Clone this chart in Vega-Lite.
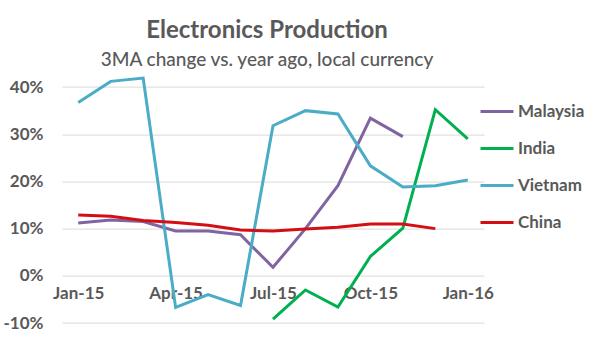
{
  "$schema": "https://vega.github.io/schema/vega-lite/v6.json",
  "autosize": "none",
  "width": 422,
  "height": 245.4,
  "padding": {"left": 62, "top": 77.6, "right": 117, "bottom": 38},
  "background": "white",
  "title": {
    "text": "Electronics Production",
    "subtitle": "3MA change vs. year ago, local currency",
    "anchor": "middle",
    "dx": -6,
    "offset": 2,
    "font": "Lato",
    "fontSize": 24,
    "fontWeight": "bold",
    "color": "#595959",
    "subtitleFont": "Lato",
    "subtitleFontSize": 19,
    "subtitleFontWeight": 500,
    "subtitleColor": "#595959",
    "subtitlePadding": 8
  },
  "data": {
    "values": [
      {"month": "Jan-15", "country": "Malaysia", "value": 0.112},
      {"month": "Feb-15", "country": "Malaysia", "value": 0.118},
      {"month": "Mar-15", "country": "Malaysia", "value": 0.115},
      {"month": "Apr-15", "country": "Malaysia", "value": 0.095},
      {"month": "May-15", "country": "Malaysia", "value": 0.095},
      {"month": "Jun-15", "country": "Malaysia", "value": 0.087},
      {"month": "Jul-15", "country": "Malaysia", "value": 0.018},
      {"month": "Aug-15", "country": "Malaysia", "value": 0.100},
      {"month": "Sep-15", "country": "Malaysia", "value": 0.191},
      {"month": "Oct-15", "country": "Malaysia", "value": 0.334},
      {"month": "Nov-15", "country": "Malaysia", "value": 0.295},
      {"month": "Jul-15", "country": "India", "value": -0.092},
      {"month": "Aug-15", "country": "India", "value": -0.030},
      {"month": "Sep-15", "country": "India", "value": -0.066},
      {"month": "Oct-15", "country": "India", "value": 0.041},
      {"month": "Nov-15", "country": "India", "value": 0.101},
      {"month": "Dec-15", "country": "India", "value": 0.352},
      {"month": "Jan-16", "country": "India", "value": 0.290},
      {"month": "Jan-15", "country": "Vietnam", "value": 0.367},
      {"month": "Feb-15", "country": "Vietnam", "value": 0.412},
      {"month": "Mar-15", "country": "Vietnam", "value": 0.419},
      {"month": "Apr-15", "country": "Vietnam", "value": -0.067},
      {"month": "May-15", "country": "Vietnam", "value": -0.040},
      {"month": "Jun-15", "country": "Vietnam", "value": -0.063},
      {"month": "Jul-15", "country": "Vietnam", "value": 0.318},
      {"month": "Aug-15", "country": "Vietnam", "value": 0.350},
      {"month": "Sep-15", "country": "Vietnam", "value": 0.343},
      {"month": "Oct-15", "country": "Vietnam", "value": 0.233},
      {"month": "Nov-15", "country": "Vietnam", "value": 0.188},
      {"month": "Dec-15", "country": "Vietnam", "value": 0.191},
      {"month": "Jan-16", "country": "Vietnam", "value": 0.203},
      {"month": "Jan-15", "country": "China", "value": 0.129},
      {"month": "Feb-15", "country": "China", "value": 0.126},
      {"month": "Mar-15", "country": "China", "value": 0.117},
      {"month": "Apr-15", "country": "China", "value": 0.113},
      {"month": "May-15", "country": "China", "value": 0.107},
      {"month": "Jun-15", "country": "China", "value": 0.097},
      {"month": "Jul-15", "country": "China", "value": 0.095},
      {"month": "Aug-15", "country": "China", "value": 0.099},
      {"month": "Sep-15", "country": "China", "value": 0.103},
      {"month": "Oct-15", "country": "China", "value": 0.110},
      {"month": "Nov-15", "country": "China", "value": 0.110},
      {"month": "Dec-15", "country": "China", "value": 0.100}
    ]
  },
  "mark": {"type": "line", "strokeWidth": 3, "clip": false},
  "encoding": {
    "x": {
      "field": "month",
      "type": "ordinal",
      "sort": ["Jan-15","Feb-15","Mar-15","Apr-15","May-15","Jun-15","Jul-15","Aug-15","Sep-15","Oct-15","Nov-15","Dec-15","Jan-16"],
      "scale": {"type": "point", "padding": 0.5},
      "axis": {
        "title": null,
        "values": ["Jan-15","Apr-15","Jul-15","Oct-15","Jan-16"],
        "labelAngle": 0,
        "offset": -47.2,
        "domain": false,
        "ticks": false,
        "grid": false,
        "labelPadding": 10,
        "labelFont": "Lato",
        "labelFontSize": 17,
        "labelFontWeight": "bold",
        "labelColor": "#595959"
      }
    },
    "y": {
      "field": "value",
      "type": "quantitative",
      "scale": {"domain": [-0.1, 0.42], "nice": false, "zero": false},
      "axis": {
        "title": null,
        "values": [-0.1, 0, 0.1, 0.2, 0.3, 0.4],
        "labelExpr": "toString(round(datum.value * 100)) + '%'",
        "domain": false,
        "ticks": false,
        "grid": true,
        "gridColor": "#D9D9D9",
        "gridWidth": 1,
        "labelPadding": 19,
        "labelFont": "Lato",
        "labelFontSize": 17,
        "labelFontWeight": "bold",
        "labelColor": "#595959"
      }
    },
    "color": {
      "field": "country",
      "type": "nominal",
      "scale": {
        "domain": ["Malaysia", "India", "Vietnam", "China"],
        "range": ["#8064A2", "#00B050", "#4BACC6", "#D40F14"]
      },
      "legend": {
        "title": null,
        "orient": "none",
        "legendX": 417,
        "legendY": 16,
        "padding": 0,
        "symbolType": "stroke",
        "symbolSize": 1089,
        "symbolStrokeWidth": 3,
        "rowPadding": 11,
        "labelOffset": 3,
        "labelFont": "Lato",
        "labelFontSize": 17,
        "labelFontWeight": "bold",
        "labelColor": "#595959"
      }
    }
  },
  "config": {"view": {"stroke": null}}
}
